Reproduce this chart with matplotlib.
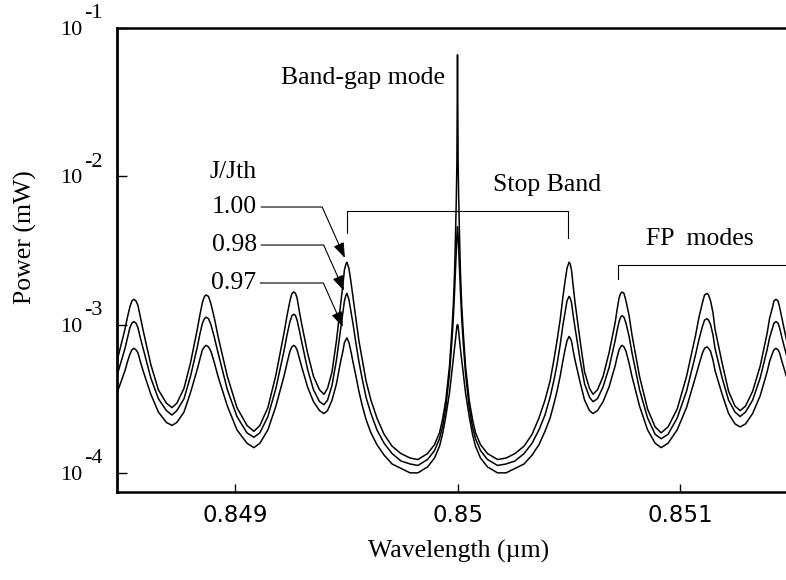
import numpy as np
import matplotlib
matplotlib.use('Agg')
import matplotlib.pyplot as plt
from matplotlib.ticker import NullLocator

# ---------------- data ----------------
wavelength_um = [
    # FP modes + lower stop-band edge
    0.848461, 0.848506, 0.848517, 0.848528, 0.848537, 0.848546, 0.848555, 0.848564, 0.848575, 0.848589,
    0.848622, 0.848656, 0.848692, 0.848717, 0.848739, 0.848771, 0.848800, 0.848831, 0.848843, 0.848854,
    0.848863, 0.848870, 0.848881, 0.848892, 0.848908, 0.848924, 0.848966, 0.849009, 0.849054, 0.849085,
    0.849112, 0.849148, 0.849184, 0.849220, 0.849234, 0.849247, 0.849256, 0.849265, 0.849272, 0.849279,
    0.849288, 0.849299, 0.849326, 0.849353, 0.849380, 0.849400, 0.849416, 0.849436, 0.849456, 0.849476,
    0.849485, 0.849492, 0.849499, 0.849503, 0.849512, 0.849521, 0.849530, 0.849544, 0.849557, 0.849571,
    0.849589, 0.849611, 0.849638, 0.849670, 0.849706, 0.849746, 0.849787, 0.849822,
    # band-gap mode
    0.8498652, 0.8498966, 0.8499191, 0.8499326, 0.8499474, 0.8499640, 0.8499739, 0.8499811, 0.8499865,
    0.8499910, 0.8499946, 0.8499973, 0.8500000, 0.8500027, 0.8500054, 0.8500090, 0.8500135, 0.8500189,
    0.8500261, 0.8500360, 0.8500526, 0.8500674, 0.8500809, 0.8501034, 0.8501348,
    # upper stop-band edge + FP modes
    0.850180, 0.850218, 0.850258, 0.850299, 0.850335, 0.850366, 0.850393, 0.850416, 0.850434, 0.850447,
    0.850461, 0.850474, 0.850483, 0.850492, 0.850501, 0.850506, 0.850512, 0.850519, 0.850528, 0.850551,
    0.850571, 0.850593, 0.850609, 0.850629, 0.850654, 0.850681, 0.850708, 0.850717, 0.850726, 0.850733,
    0.850739, 0.850748, 0.850757, 0.850771, 0.850784, 0.850818, 0.850854, 0.850888, 0.850915, 0.850946,
    0.850987, 0.851029, 0.851070, 0.851085, 0.851101, 0.851110, 0.851121, 0.851128, 0.851137, 0.851148,
    0.851157, 0.851189, 0.851218, 0.851247, 0.851270, 0.851294, 0.851326, 0.851360, 0.851391, 0.851402,
    0.851416, 0.851422, 0.851431, 0.851440, 0.851447, 0.851458, 0.851472, 0.851494,
]

# log10 of power in mW, J/Jth = 1.00
log_power_100 = [
    -3.30, -3.03, -2.95, -2.88, -2.84, -2.83, -2.84, -2.87, -2.95, -3.05,
    -3.27, -3.44, -3.53, -3.56, -3.53, -3.43, -3.26, -3.03, -2.93, -2.85,
    -2.81, -2.80, -2.81, -2.86, -2.96, -3.08, -3.35, -3.56, -3.68, -3.72,
    -3.68, -3.56, -3.34, -3.06, -2.94, -2.84, -2.79, -2.78, -2.79, -2.82,
    -2.90, -2.99, -3.19, -3.35, -3.44, -3.47, -3.43, -3.32, -3.11, -2.85,
    -2.73, -2.63, -2.59, -2.58, -2.62, -2.71, -2.81, -2.97, -3.11, -3.23,
    -3.38, -3.51, -3.63, -3.74, -3.82, -3.87, -3.90, -3.91,
    -3.87, -3.81, -3.73, -3.64, -3.51, -3.28, -3.06, -2.87, -2.66, -2.40, -2.15, -1.90, -1.18,
    -1.90, -2.15, -2.40, -2.66, -2.87, -3.06, -3.28, -3.51, -3.64, -3.73, -3.81, -3.87,
    -3.91, -3.90, -3.87, -3.82, -3.74, -3.63, -3.51, -3.38, -3.23, -3.11,
    -2.97, -2.81, -2.71, -2.62, -2.58, -2.59, -2.63, -2.73, -2.85, -3.11,
    -3.32, -3.43, -3.47, -3.44, -3.35, -3.19, -2.99, -2.90, -2.82, -2.79,
    -2.78, -2.79, -2.84, -2.94, -3.07, -3.35, -3.57, -3.69, -3.73, -3.69,
    -3.57, -3.35, -3.07, -2.95, -2.85, -2.80, -2.79, -2.80, -2.84, -2.92,
    -3.03, -3.26, -3.45, -3.55, -3.58, -3.55, -3.45, -3.28, -3.06, -2.96,
    -2.88, -2.84, -2.83, -2.84, -2.88, -2.96, -3.06, -3.21,
]

# log10 of power in mW, J/Jth = 0.98
log_power_098 = [
    -3.39, -3.16, -3.09, -3.02, -2.99, -2.98, -2.99, -3.02, -3.09, -3.17,
    -3.36, -3.50, -3.58, -3.61, -3.58, -3.50, -3.35, -3.15, -3.06, -2.99,
    -2.96, -2.95, -2.96, -3.00, -3.09, -3.19, -3.44, -3.62, -3.73, -3.76,
    -3.73, -3.62, -3.43, -3.18, -3.07, -2.98, -2.94, -2.93, -2.94, -2.97,
    -3.03, -3.11, -3.30, -3.44, -3.52, -3.54, -3.51, -3.41, -3.24, -3.02,
    -2.92, -2.84, -2.80, -2.79, -2.83, -2.91, -2.99, -3.13, -3.25, -3.36,
    -3.49, -3.60, -3.71, -3.80, -3.87, -3.92, -3.94, -3.95,
    -3.91, -3.85, -3.77, -3.69, -3.56, -3.33, -3.13, -2.96, -2.79, -2.63, -2.50, -2.40, -2.34,
    -2.40, -2.50, -2.63, -2.79, -2.96, -3.13, -3.33, -3.56, -3.69, -3.77, -3.85, -3.91,
    -3.95, -3.94, -3.92, -3.87, -3.80, -3.71, -3.61, -3.49, -3.37, -3.27,
    -3.14, -3.00, -2.92, -2.84, -2.81, -2.82, -2.85, -2.93, -3.02, -3.24,
    -3.40, -3.49, -3.52, -3.50, -3.42, -3.29, -3.11, -3.04, -2.98, -2.95,
    -2.94, -2.95, -2.99, -3.08, -3.19, -3.44, -3.63, -3.74, -3.77, -3.74,
    -3.63, -3.45, -3.20, -3.10, -3.01, -2.97, -2.96, -2.97, -3.00, -3.07,
    -3.16, -3.36, -3.51, -3.59, -3.62, -3.59, -3.51, -3.36, -3.17, -3.09,
    -3.02, -2.99, -2.98, -2.99, -3.02, -3.09, -3.17, -3.30,
]

# log10 of power in mW, J/Jth = 0.97
log_power_097 = [
    -3.50, -3.31, -3.25, -3.20, -3.17, -3.16, -3.17, -3.19, -3.25, -3.32,
    -3.47, -3.59, -3.66, -3.68, -3.66, -3.59, -3.46, -3.30, -3.23, -3.17,
    -3.15, -3.14, -3.15, -3.18, -3.26, -3.35, -3.55, -3.71, -3.80, -3.83,
    -3.80, -3.71, -3.55, -3.35, -3.26, -3.18, -3.15, -3.14, -3.15, -3.17,
    -3.22, -3.28, -3.42, -3.52, -3.58, -3.60, -3.58, -3.51, -3.40, -3.24,
    -3.18, -3.12, -3.10, -3.09, -3.12, -3.18, -3.25, -3.35, -3.45, -3.54,
    -3.64, -3.73, -3.81, -3.88, -3.94, -3.97, -4.00, -4.00,
    -3.96, -3.90, -3.82, -3.74, -3.62, -3.46, -3.33, -3.24, -3.17, -3.10, -3.05, -3.01, -3.00,
    -3.01, -3.05, -3.10, -3.17, -3.24, -3.33, -3.46, -3.62, -3.74, -3.82, -3.90, -3.96,
    -4.00, -4.00, -3.97, -3.94, -3.88, -3.81, -3.72, -3.63, -3.53, -3.45,
    -3.35, -3.24, -3.17, -3.11, -3.08, -3.09, -3.11, -3.17, -3.24, -3.39,
    -3.51, -3.58, -3.60, -3.58, -3.52, -3.42, -3.28, -3.22, -3.17, -3.15,
    -3.14, -3.15, -3.18, -3.26, -3.35, -3.55, -3.71, -3.80, -3.83, -3.80,
    -3.71, -3.56, -3.35, -3.27, -3.19, -3.16, -3.15, -3.16, -3.18, -3.24,
    -3.31, -3.47, -3.60, -3.67, -3.69, -3.67, -3.60, -3.48, -3.32, -3.25,
    -3.19, -3.17, -3.16, -3.17, -3.19, -3.25, -3.32, -3.43,
]

ratio_labels = ['1.00', '0.98', '0.97']
x_ticks = [0.849, 0.850, 0.851]
x_tick_labels = ['0.849', '0.85', '0.851']
y_exponents = [-4, -3, -2, -1]

# annotation anchors (data units)
arrow_tips = [(0.849494, 2.81e-3), (0.849490, 1.69e-3), (0.849485, 9.64e-4)]
stop_band_edges = (0.849503, 0.850497)
stop_band_levels = (5.83e-3, 4.15e-3, 3.84e-3)
fp_bracket_start = 0.850721
fp_bracket_levels = (2.52e-3, 2.03e-3)

# ---------------- drawing ----------------
SERIF = ['Liberation Serif', 'DejaVu Serif']
TXT = 18.5

fig = plt.figure(figsize=(7.86, 5.80), dpi=100)
ax = fig.add_axes([117 / 786, 88 / 580, 669 / 786, 464 / 580])

for lp in (log_power_100, log_power_098, log_power_097):
    ax.plot(wavelength_um, 10.0 ** np.asarray(lp), color='black', lw=1.1,
            solid_joinstyle='round')

ax.set_yscale('log')
ax.set_xlim(0.848470, 0.851476)
ax.set_ylim(7.43e-5, 0.1)

ax.spines['right'].set_visible(False)
ax.spines['left'].set_linewidth(2.0)
ax.spines['bottom'].set_linewidth(1.8)
ax.spines['top'].set_linewidth(1.8)

ax.set_xticks(x_ticks)
ax.set_xticklabels(x_tick_labels, fontfamily='DejaVu Sans', fontsize=16.5)
ax.xaxis.set_minor_locator(NullLocator())
ax.tick_params(axis='x', direction='in', length=6, width=1, pad=9, top=False)

ax.set_yticks([10.0 ** e for e in y_exponents])
ax.set_yticklabels(['10'] * len(y_exponents), fontfamily=SERIF, fontsize=16)
ax.yaxis.set_minor_locator(NullLocator())
ax.tick_params(axis='y', direction='in', length=7, width=1, pad=25, right=False)
for e in y_exponents:
    ax.annotate(str(e), xy=(0, 10.0 ** e), xycoords=('axes fraction', 'data'),
                xytext=(-33 * 0.72, 14 * 0.72), textcoords='offset points',
                ha='left', va='center', fontsize=16, fontfamily=SERIF,
                annotation_clip=False)

ax.set_xlabel('Wavelength (µm)', fontfamily=SERIF, fontsize=TXT)
ax.xaxis.set_label_coords(0.5112, -0.1272)
ax.xaxis.label.set_va('center')
ax.set_ylabel('Power (mW)', fontfamily=SERIF, fontsize=TXT)
ax.yaxis.set_label_coords(-0.1375, 0.5496)
ax.yaxis.label.set_va('center')

ax.text(0.3677, 0.8922, 'Band-gap mode', transform=ax.transAxes, ha='center', va='center',
        fontfamily=SERIF, fontsize=TXT)
ax.text(0.6428, 0.6616, 'Stop Band', transform=ax.transAxes, ha='center', va='center',
        fontfamily=SERIF, fontsize=TXT)
ax.text(0.8714, 0.5453, 'FP  modes', transform=ax.transAxes, ha='center', va='center',
        fontfamily=SERIF, fontsize=TXT)
ax.text(0.1734, 0.6897, 'J/Jth', transform=ax.transAxes, ha='center', va='center',
        fontfamily=SERIF, fontsize=TXT)

label_pos = [(0.2093, 0.6142), (0.2093, 0.5323), (0.2078, 0.4504)]
for lab, tip, pos in zip(ratio_labels, arrow_tips, label_pos):
    ax.annotate(lab, xy=tip, xycoords='data', xytext=pos, textcoords='axes fraction',
                ha='right', va='center', fontfamily=SERIF, fontsize=TXT,
                arrowprops=dict(arrowstyle='-|>,head_length=0.5,head_width=0.18',
                                color='black', lw=0.8, shrinkA=1, shrinkB=0,
                                relpos=(1.0, 0.5),
                                connectionstyle='angle,angleA=0,angleB=114,rad=0'))

x0, x1 = stop_band_edges
ytop, yl, yr = stop_band_levels
ax.plot([x0, x0, x1, x1], [yl, ytop, ytop, yr], color='black', lw=0.8)
fy_top, fy_end = fp_bracket_levels
ax.plot([fp_bracket_start, fp_bracket_start, 0.8516], [fy_end, fy_top, fy_top],
        color='black', lw=0.8)

fig.savefig('out.png', dpi=100)
